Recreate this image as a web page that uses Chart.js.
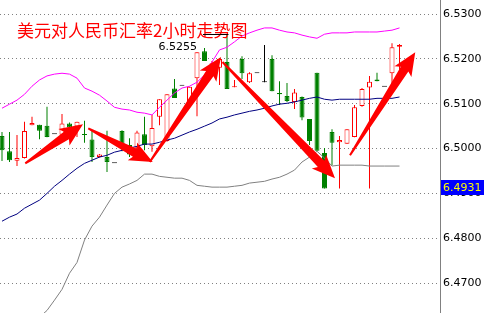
<!DOCTYPE html>
<html>
<head>
<meta charset="utf-8">
<script src="https://cdn.jsdelivr.net/npm/chart.js@4.4.1/dist/chart.umd.min.js"></script>
<style>
  html, body { margin: 0; padding: 0; background: #fff; }
  #wrap { width: 484px; height: 313px; position: relative; }
</style>
</head>
<body>
<div id="wrap"><canvas id="chart"></canvas></div>
<script>
// USD/CNY, 2 hour candles with Bollinger bands
const openPrices = [
  6.5028, 6.4994, 6.4973, 6.4979, 6.5052, 6.5053, 6.5051, 6.5032, 6.5031, 6.5056,
  6.5049, 6.5031, 6.5020, 6.4981, 6.4981, 6.4967, 6.5039, 6.5008, 6.5002, 6.5032,
  6.5005, 6.5071, 6.5017, 6.5134, 6.5140, 6.5105, 6.5157, 6.5217, 6.5170, 6.5180,
  6.5193, 6.5137, 6.5200, 6.5148, 6.5168, 6.5148, 6.5200, 6.5124, 6.5117, 6.5104,
  6.5115, 6.5066, 6.5169, 6.4990, 6.5037, 6.5014, 6.5011, 6.5026, 6.5095, 6.5136,
  6.5154, 6.5138, 6.5168, 6.5227
];
const highPrices = [
  6.5037, 6.5037, 6.5030, 6.5060, 6.5071, 6.5053, 6.5093, 6.5032, 6.5077, 6.5058,
  6.5060, 6.5062, 6.5041, 6.4988, 6.5040, 6.4967, 6.5041, 6.5023, 6.5040, 6.5071,
  6.5075, 6.5110, 6.5121, 6.5155, 6.5140, 6.5138, 6.5215, 6.5224, 6.5195, 6.5202,
  6.5255, 6.5153, 6.5206, 6.5170, 6.5168, 6.5231, 6.5208, 6.5150, 6.5146, 6.5133,
  6.5116, 6.5066, 6.5169, 6.5001, 6.5043, 6.5028, 6.5043, 6.5097, 6.5135, 6.5162,
  6.5169, 6.5138, 6.5235, 6.5233
];
const lowPrices = [
  6.4972, 6.4970, 6.4961, 6.4978, 6.5052, 6.5021, 6.5025, 6.5032, 6.5026, 6.5045,
  6.5026, 6.5013, 6.4970, 6.4980, 6.4948, 6.4967, 6.4994, 6.4981, 6.4996, 6.4996,
  6.4993, 6.5052, 6.5015, 6.5113, 6.5140, 6.5090, 6.5072, 6.5195, 6.5165, 6.5142,
  6.5133, 6.5137, 6.5155, 6.5146, 6.5168, 6.5148, 6.5128, 6.5097, 6.5104, 6.5088,
  6.5063, 6.5008, 6.4995, 6.4911, 6.4963, 6.4911, 6.5011, 6.5025, 6.5093, 6.4911,
  6.5150, 6.5138, 6.5142, 6.5146
];
const closePrices = [
  6.4996, 6.4974, 6.4979, 6.5039, 6.5057, 6.5040, 6.5026, 6.5032, 6.5056, 6.5047,
  6.5060, 6.5030, 6.4981, 6.4987, 6.4970, 6.4967, 6.5010, 6.4987, 6.5036, 6.5008,
  6.5046, 6.5110, 6.5121, 6.5113, 6.5140, 6.5138, 6.5215, 6.5195, 6.5190, 6.5200,
  6.5133, 6.5139, 6.5168, 6.5168, 6.5168, 6.5148, 6.5128, 6.5121, 6.5106, 6.5125,
  6.5069, 6.5017, 6.4995, 6.4911, 6.5013, 6.5019, 6.5043, 6.5092, 6.5133, 6.5149,
  6.5150, 6.5138, 6.5226, 6.5231
];
const upperBand = [
  6.5090, 6.5099, 6.5108, 6.5121, 6.5139, 6.5153, 6.5162, 6.5166, 6.5168, 6.5166,
  6.5157, 6.5135, 6.5128, 6.5119, 6.5106, 6.5092, 6.5088, 6.5086, 6.5081, 6.5079,
  6.5075, 6.5092, 6.5108, 6.5124, 6.5135, 6.5139, 6.5148, 6.5164, 6.5193, 6.5220,
  6.5226, 6.5238, 6.5251, 6.5258, 6.5264, 6.5269, 6.5269, 6.5264, 6.5260, 6.5258,
  6.5253, 6.5249, 6.5246, 6.5255, 6.5258, 6.5258, 6.5258, 6.5260, 6.5260, 6.5260,
  6.5260, 6.5262, 6.5264, 6.5269
];
const middleBand = [
  6.4838, 6.4847, 6.4854, 6.4867, 6.4876, 6.4885, 6.4900, 6.4916, 6.4929, 6.4943,
  6.4956, 6.4967, 6.4974, 6.4981, 6.4985, 6.4992, 6.4996, 6.5001, 6.5005, 6.5010,
  6.5010, 6.5014, 6.5019, 6.5023, 6.5030, 6.5037, 6.5043, 6.5050, 6.5057, 6.5066,
  6.5070, 6.5075, 6.5079, 6.5083, 6.5086, 6.5090, 6.5095, 6.5099, 6.5101, 6.5104,
  6.5108, 6.5112, 6.5115, 6.5110, 6.5108, 6.5110, 6.5110, 6.5110, 6.5110, 6.5110,
  6.5112, 6.5112, 6.5112, 6.5115
];
const lowerBand = [
  6.4586, 6.4592, 6.4599, 6.4608, 6.4615, 6.4624, 6.4639, 6.4662, 6.4686, 6.4722,
  6.4746, 6.4796, 6.4827, 6.4847, 6.4874, 6.4900, 6.4914, 6.4921, 6.4929, 6.4943,
  6.4943, 6.4938, 6.4936, 6.4934, 6.4934, 6.4929, 6.4918, 6.4916, 6.4914, 6.4914,
  6.4914, 6.4916, 6.4918, 6.4923, 6.4925, 6.4927, 6.4932, 6.4936, 6.4943, 6.4952,
  6.4970, 6.4981, 6.4994, 6.4979, 6.4961, 6.4963, 6.4963, 6.4963, 6.4963, 6.4961,
  6.4961, 6.4961, 6.4961, 6.4961
];
const priceTicks = [6.47, 6.48, 6.49, 6.50, 6.51, 6.52, 6.53];

const titleText = '美元对人民币汇率2小时走势图';
const highMark = 6.5255;
const highIndex = 30;
const lastPrice = 6.4931;
// trend arrows: [from index, from price, to index, to price]
const trendArrows = [
  [3.1, 6.4967, 10.8, 6.5054],
  [11.5, 6.5045, 20.1, 6.4970],
  [19.7, 6.4970, 29.2, 6.5204],
  [29.4, 6.5193, 44.4, 6.4934],
  [46.4, 6.4985, 55.1, 6.5215]
];

const RED = '#ff0000';
const GREEN = '#008000';

function candleColor(i) {
  if (closePrices[i] > openPrices[i]) return RED;
  if (closePrices[i] < openPrices[i]) return GREEN;
  return '#000000';
}

const idx = openPrices.map((_, i) => i);
const bodyData = idx.map(i => ({ x: i, y: [openPrices[i], closePrices[i]] }));
const wickData = idx.map(i => ({ x: i, y: [lowPrices[i], highPrices[i]] }));
const lineData = arr => arr.map((v, i) => ({ x: i, y: v }));

function drawArrow(ctx, x1, y1, x2, y2) {
  const ang = Math.atan2(y2 - y1, x2 - x1);
  const len = Math.hypot(x2 - x1, y2 - y1);
  const headLen = 20, headHalf = 10, neck = 4.5, tail = 1;
  ctx.save();
  ctx.translate(x1, y1);
  ctx.rotate(ang);
  ctx.beginPath();
  ctx.moveTo(0, -tail);
  ctx.lineTo(len - headLen, -neck);
  ctx.lineTo(len - headLen - 3, -headHalf);
  ctx.lineTo(len, 0);
  ctx.lineTo(len - headLen - 3, headHalf);
  ctx.lineTo(len - headLen, neck);
  ctx.lineTo(0, tail);
  ctx.closePath();
  ctx.fillStyle = RED;
  ctx.fill();
  ctx.restore();
}

const decorations = {
  id: 'decorations',
  afterDatasetsDraw(chart) {
    const { ctx, scales: { x, y } } = chart;
    trendArrows.forEach(a => {
      drawArrow(ctx, x.getPixelForValue(a[0]), y.getPixelForValue(a[1]),
                x.getPixelForValue(a[2]), y.getPixelForValue(a[3]));
    });
  },
  afterDraw(chart) {
    const { ctx, scales: { x, y } } = chart;
    ctx.save();
    // title
    ctx.font = '17px "Noto Sans CJK SC"';
    ctx.fillStyle = RED;
    ctx.textBaseline = 'middle';
    ctx.textAlign = 'left';
    ctx.fillText(titleText, 17, 30.5);

    // high marker
    const hy = Math.round(y.getPixelForValue(highMark)) + 0.5;
    ctx.strokeStyle = '#000';
    ctx.lineWidth = 1;
    ctx.beginPath();
    ctx.moveTo(x.getPixelForValue(highIndex - 3.2), hy);
    ctx.lineTo(x.getPixelForValue(highIndex + 0.2), hy);
    ctx.stroke();
    ctx.font = '11px "DejaVu Sans"';
    ctx.fillStyle = '#000';
    ctx.textAlign = 'right';
    ctx.textBaseline = 'top';
    ctx.fillText(highMark.toFixed(4), x.getPixelForValue(highIndex - 4), hy + 7);

    // last price box
    const ly = Math.round(y.getPixelForValue(lastPrice));
    ctx.fillStyle = '#0000ff';
    ctx.fillRect(441, ly, 43, 15);
    ctx.fillStyle = '#ffff00';
    ctx.textAlign = 'left';
    ctx.textBaseline = 'middle';
    ctx.fillText(lastPrice.toFixed(4), 443, ly + 8);
    ctx.restore();
  }
};

new Chart(document.getElementById('chart'), {
  data: {
    datasets: [
      {
        type: 'line',
        data: lineData(upperBand),
        borderColor: '#ff00ff',
        borderWidth: 1,
        pointRadius: 0,
        tension: 0,
        order: 0
      },
      {
        type: 'line',
        data: lineData(middleBand),
        borderColor: '#000080',
        borderWidth: 1,
        pointRadius: 0,
        tension: 0,
        order: 0
      },
      {
        type: 'line',
        data: lineData(lowerBand),
        borderColor: '#808080',
        borderWidth: 1,
        pointRadius: 0,
        tension: 0,
        order: 0
      },
      {
        type: 'bar',
        data: bodyData,
        backgroundColor: idx.map(i => closePrices[i] > openPrices[i] ? '#ffffff' : candleColor(i)),
        borderColor: idx.map(candleColor),
        borderWidth: 1,
        borderSkipped: false,
        barThickness: 5,
        minBarLength: 1,
        inflateAmount: 0,
        grouped: false,
        order: 1
      },
      {
        type: 'bar',
        data: wickData,
        backgroundColor: idx.map(candleColor),
        borderWidth: 0,
        barThickness: 1,
        inflateAmount: 0,
        grouped: false,
        order: 2
      }
    ]
  },
  options: {
    responsive: true,
    maintainAspectRatio: false,
    animation: false,
    layout: { padding: 0 },
    plugins: {
      legend: { display: false },
      tooltip: { enabled: false }
    },
    scales: {
      x: {
        type: 'linear',
        display: false,
        offset: false,
        min: -2 / 7.5,
        max: -2 / 7.5 + 440 / 7.5
      },
      y: {
        position: 'right',
        min: 6.46333,
        max: 6.53313,
        afterFit(scale) {
          scale.width = 44;
          scale.paddingTop = 0;
          scale.paddingBottom = 0;
        },
        afterBuildTicks(scale) {
          scale.ticks = priceTicks.map(v => ({ value: v }));
        },
        grid: {
          color: '#808080',
          drawTicks: false
        },
        border: {
          display: true,
          color: '#808080',
          width: 1,
          dash: [1, 3]
        },
        ticks: {
          padding: 3,
          color: '#000',
          font: { family: 'DejaVu Sans', size: 11 },
          callback: v => v.toFixed(4)
        }
      }
    }
  },
  plugins: [decorations]
});
</script>
</body>
</html>
